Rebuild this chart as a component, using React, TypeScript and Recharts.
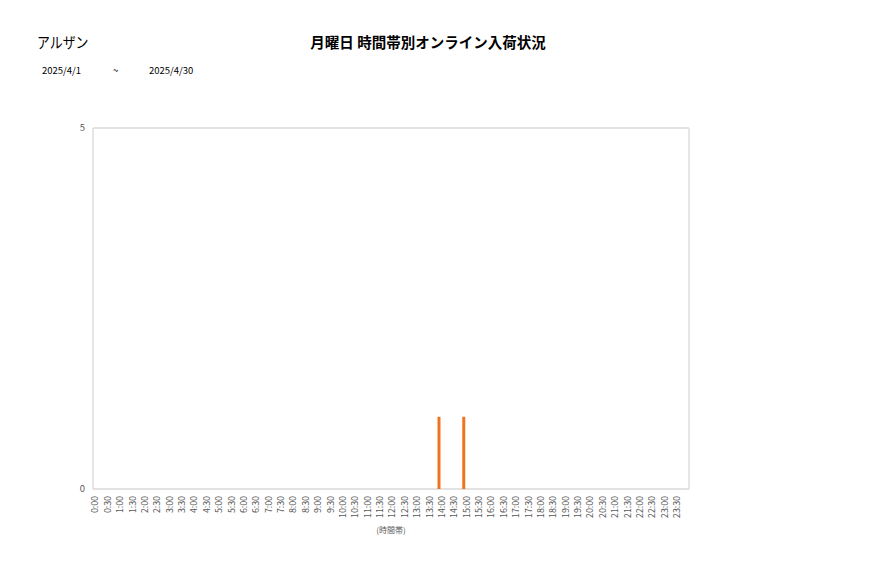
import React from "react";
import { BarChart, Bar, XAxis, YAxis, CartesianGrid } from "recharts";

const storeName = "アルザン";
const chartTitle = "月曜日 時間帯別オンライン入荷状況";
const dateFrom = "2025/4/1";
const dateSep = "~";
const dateTo = "2025/4/30";
const axisTitle = "(時間帯)";

const timeSlots = [
  "0:00", "0:30", "1:00", "1:30", "2:00", "2:30", "3:00", "3:30",
  "4:00", "4:30", "5:00", "5:30", "6:00", "6:30", "7:00", "7:30",
  "8:00", "8:30", "9:00", "9:30", "10:00", "10:30", "11:00", "11:30",
  "12:00", "12:30", "13:00", "13:30", "14:00", "14:30", "15:00", "15:30",
  "16:00", "16:30", "17:00", "17:30", "18:00", "18:30", "19:00", "19:30",
  "20:00", "20:30", "21:00", "21:30", "22:00", "22:30", "23:00", "23:30",
];

const arrivals = [
  0, 0, 0, 0, 0, 0, 0, 0,
  0, 0, 0, 0, 0, 0, 0, 0,
  0, 0, 0, 0, 0, 0, 0, 0,
  0, 0, 0, 0, 1, 0, 1, 0,
  0, 0, 0, 0, 0, 0, 0, 0,
  0, 0, 0, 0, 0, 0, 0, 0,
];

const yTicks = [0, 5];

const data = timeSlots.map((t, i) => ({ time: t, count: arrivals[i] }));

const FONT = "'Noto Sans CJK JP', 'Noto Sans', sans-serif";
const TEXT = "#595959";

export default function App() {
  return (
    <div
      style={{
        position: "absolute",
        left: 0,
        top: 0,
        width: 877,
        height: 578,
        background: "#fff",
        fontFamily: FONT,
        overflow: "hidden",
      }}
    >
      <div
        style={{
          position: "absolute",
          left: 37,
          top: 32,
          fontSize: 15,
          color: "#000",
          lineHeight: "20px",
          transform: "scaleX(0.86)",
          transformOrigin: "left center",
        }}
      >
        {storeName}
      </div>
      <div
        style={{
          position: "absolute",
          left: 228,
          width: 400,
          top: 32,
          textAlign: "center",
          fontSize: 14.5,
          fontWeight: 600,
          color: "#000",
          lineHeight: "20px",
        }}
      >
        {chartTitle}
      </div>
      <div style={{ position: "absolute", left: 42, top: 63, fontSize: 9.5, color: "#000", lineHeight: "14px" }}>
        {dateFrom}
      </div>
      <div style={{ position: "absolute", left: 113, top: 63, fontSize: 9.5, color: "#000", lineHeight: "14px" }}>
        {dateSep}
      </div>
      <div style={{ position: "absolute", left: 149, top: 63, fontSize: 9.5, color: "#000", lineHeight: "14px" }}>
        {dateTo}
      </div>
      <div
        style={{
          position: "absolute",
          left: 341,
          width: 100,
          top: 524,
          textAlign: "center",
          fontSize: 8,
          color: TEXT,
          lineHeight: "12px",
        }}
      >
        {axisTitle}
      </div>
      <div style={{ position: "absolute", left: 0, top: 0 }}>
        <BarChart
          width={877}
          height={578}
          data={data}
          margin={{ top: 128, right: 188, bottom: 39, left: 53 }}
        >
          <CartesianGrid
            stroke="#d9d9d9"
            strokeWidth={1.3}
            horizontal={true}
            vertical={true}
            verticalPoints={[93, 689]}
          />
          <XAxis
            dataKey="time"
            interval={0}
            height={50}
            tickLine={false}
            axisLine={false}
            tickSize={4}
            tickMargin={3}
            padding={{ left: -7, right: 9 }}
            angle={-90}
            textAnchor="end"
            tick={{ fontSize: 8.8, fill: TEXT, fontFamily: FONT }}
          />
          <YAxis
            width={40}
            domain={[0, 5]}
            ticks={yTicks}
            interval={0}
            tickLine={false}
            axisLine={false}
            tick={{ fontSize: 9.5, fill: TEXT, fontFamily: FONT }}
          />
          <Bar dataKey="count" fill="#F0731E" barSize={3} isAnimationActive={false} />
        </BarChart>
      </div>
    </div>
  );
}
